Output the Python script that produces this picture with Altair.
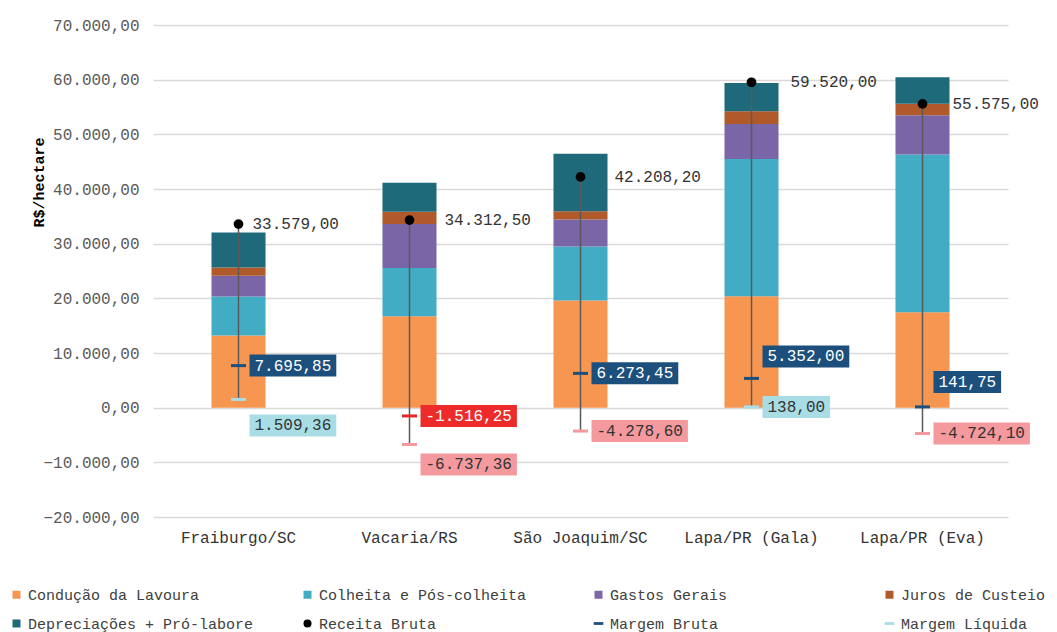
import altair as alt
import pandas as pd

categorias = ["Fraiburgo/SC", "Vacaria/RS", "São Joaquim/SC", "Lapa/PR (Gala)", "Lapa/PR (Eva)"]
series_custo = ["Condução da Lavoura", "Colheita e Pós-colheita", "Gastos Gerais",
                "Juros de Custeio", "Depreciações + Pró-labore"]
conducao = [13200, 16700, 19600, 20400, 17450]
colheita = [7150, 8850, 9900, 25100, 28850]
gastos = [3800, 8050, 4900, 6400, 7200]
juros = [1500, 2250, 1550, 2300, 2100]
depreciacoes = [6400, 5300, 10500, 5200, 4850]
receita = [33579.00, 34312.50, 42208.20, 59520.00, 55575.00]
margem_bruta = [7695.85, -1516.25, 6273.45, 5352.00, 141.75]
margem_liquida = [1509.36, -6737.36, -4278.60, 138.00, -4724.10]

# label nudges (pixels), used only to keep labels apart as in the original
bruta_label_dy = [0, 0, 0, -22, -25]
liquida_label_dy = [26, 20, 0, 0, 0]
receita_label_dx = [14, 35, 34, 39, 30]

legend_items = series_custo + ["Receita Bruta", "Margem Bruta", "Margem Líquida"]
legend_colors = ["#f69651", "#42acc4", "#7a66a6", "#b0592a", "#1f6a7a",
                 "#000000", "#1d4f7c", "#a9dde6"]
DASH = "M-1.2,-0.35H1.2V0.35H-1.2Z"
legend_shapes = ["square"] * 5 + ["circle", DASH, DASH]

FONT = "Liberation Mono"
CHAR_W = 9.6


def br(v):
    return f"{v:,.2f}".replace(",", "#").replace(".", ",").replace("#", ".")


def box_path(text, dy):
    w = len(text) * CHAR_W + 10
    return f"M11,{dy - 11}H{11 + w:.1f}V{dy + 11}H11Z"


rows = []
for s_i, (name, vals) in enumerate(zip(series_custo, [conducao, colheita, gastos, juros, depreciacoes])):
    for c, v in zip(categorias, vals):
        rows.append({"cat": c, "serie": name, "valor": v, "ordem": s_i})
df_bar = pd.DataFrame(rows)

df_main = pd.DataFrame({"cat": categorias, "receita": receita,
                        "bruta": margem_bruta, "liquida": margem_liquida,
                        "serie": ["Receita Bruta"] * len(categorias),
                        "receita_lbl": [br(v) for v in receita],
                        "dx": receita_label_dx})

lab_rows = []
for i, c in enumerate(categorias):
    b = margem_bruta[i]
    l = margem_liquida[i]
    tb = br(b)
    tl = br(l)
    lab_rows.append({"cat": c, "v": b, "txt": tb, "box": box_path(tb, bruta_label_dy[i]),
                     "dy": bruta_label_dy[i],
                     "fill": "#1d4f7c" if b >= 0 else "#ee2b2b", "tcol": "#ffffff",
                     "tick": "#1d4f7c" if b >= 0 else "#e8262a"})
    lab_rows.append({"cat": c, "v": l, "txt": tl, "box": box_path(tl, liquida_label_dy[i]),
                     "dy": liquida_label_dy[i],
                     "fill": "#a9dde6" if l >= 0 else "#f4999d", "tcol": "#333333",
                     "tick": "#a9dde6" if l >= 0 else "#f4999d"})
df_lab = pd.DataFrame(lab_rows)

x_enc = alt.X("cat:N", sort=categorias, title=None,
              scale=alt.Scale(paddingInner=0.684, paddingOuter=0.342),
              axis=alt.Axis(labelAngle=0, ticks=False, domain=False, labelPadding=12,
                            labelFont=FONT, labelFontSize=16, labelColor="#333333"))

y_scale = alt.Scale(domain=[-20000, 70000], nice=False)
y_axis = alt.Axis(values=list(range(-20000, 70001, 10000)), ticks=False, domain=False,
                  labelPadding=14, labelFont=FONT, labelFontSize=16, labelColor="#595959",
                  gridColor="#d9d9d9", gridWidth=1.5,
                  labelExpr="replace(replace(replace(format(datum.value, ',.2f'), ',', '#'), '.', ','), '#', '.')",
                  title="R$/hectare", titleFont=FONT, titleFontSize=15, titleFontWeight="bold",
                  titleColor="#000000", titleX=-115, titleY=157, titleAlign="center",
                  titleBaseline="middle", titleAngle=270)


def make_legend():
    return alt.Legend(title=None, orient="none", legendX=-144, legendY=562,
                      direction="horizontal", columns=4, gridAlign="all", columnPadding=46,
                      rowPadding=13, symbolSize=64, symbolStrokeWidth=0,
                      labelFont=FONT, labelFontSize=15, labelColor="#404040",
                      labelOffset=4, padding=0, labelLimit=400)


color_scale = alt.Scale(domain=legend_items, range=legend_colors)
shape_scale = alt.Scale(domain=legend_items, range=legend_shapes)

bars = alt.Chart(df_bar).mark_bar().encode(
    x=x_enc,
    y=alt.Y("valor:Q", stack="zero", scale=y_scale, axis=y_axis),
    color=alt.Color("serie:N", scale=color_scale, legend=make_legend()),
    order=alt.Order("ordem:Q", sort="ascending"),
)

rule = alt.Chart(df_main).mark_rule(color="#5a5a5a", strokeWidth=1.5).encode(
    x=alt.X("cat:N", sort=categorias),
    y=alt.Y("receita:Q"),
    y2="liquida:Q",
)

ticks = alt.Chart(df_lab).mark_point(filled=True, opacity=1, size=225,
                                     shape="M-1,-0.2H1V0.2H-1Z", strokeWidth=0).encode(
    x=alt.X("cat:N", sort=categorias),
    y=alt.Y("v:Q"),
    fill=alt.Fill("tick:N", scale=None),
)

boxes = alt.Chart(df_lab).mark_point(filled=True, opacity=1, size=4, strokeWidth=0,
                                     shape={"expr": "datum.box"}).encode(
    x=alt.X("cat:N", sort=categorias),
    y=alt.Y("v:Q"),
    fill=alt.Fill("fill:N", scale=None),
)

box_text = alt.Chart(df_lab).mark_text(align="left", baseline="middle", dx=16,
                                       dy={"expr": "datum.dy"},
                                       font=FONT, fontSize=16).encode(
    x=alt.X("cat:N", sort=categorias),
    y=alt.Y("v:Q"),
    text="txt:N",
    fill=alt.Fill("tcol:N", scale=None),
)

dots = alt.Chart(df_main).mark_point(filled=True, size=95, opacity=1, strokeWidth=0).encode(
    x=alt.X("cat:N", sort=categorias),
    y=alt.Y("receita:Q"),
    color=alt.Color("serie:N", scale=color_scale, legend=make_legend()),
    shape=alt.Shape("serie:N", scale=shape_scale, legend=make_legend()),
)

rec_text = alt.Chart(df_main).mark_text(align="left", baseline="middle", dx={"expr": "datum.dx"},
                                        font=FONT, fontSize=16, color="#333333").encode(
    x=alt.X("cat:N", sort=categorias),
    y=alt.Y("receita:Q"),
    text="receita_lbl:N",
)

chart = alt.layer(bars, rule, ticks, boxes, box_text, dots, rec_text).properties(
    width=855, height=492,
    autosize=alt.AutoSizeParams(type="none"),
    padding={"left": 145, "top": 17, "right": 40, "bottom": 115},
).configure_view(stroke=None)

chart.save("out.html", embed_options={"renderer": "svg", "actions": False})
